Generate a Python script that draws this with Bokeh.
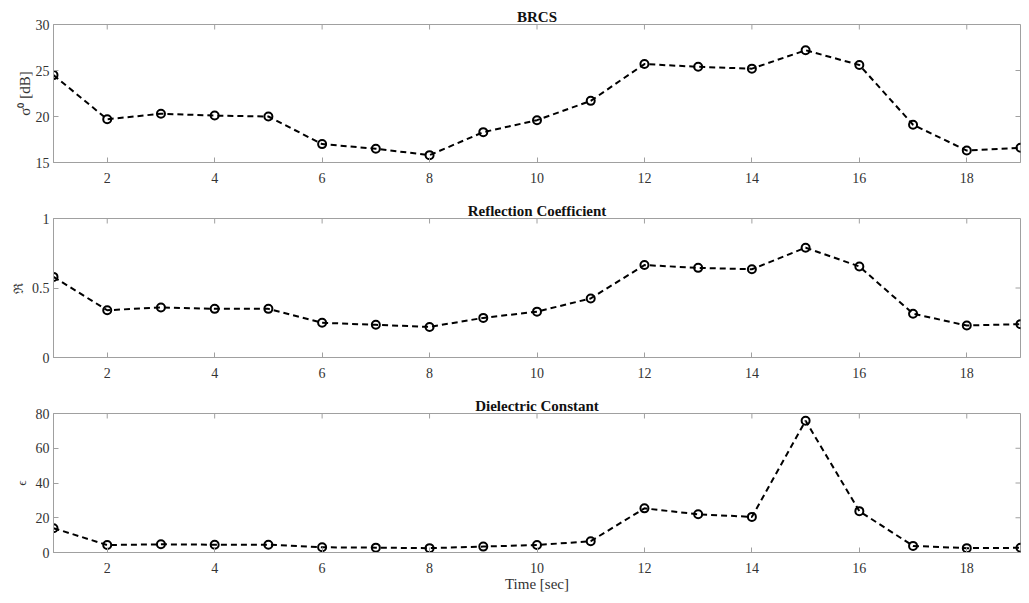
import math
from bokeh.plotting import figure
from bokeh.layouts import column
from bokeh.models import Range1d, LinearAxis, FixedTicker
from bokeh.embed import file_html
from bokeh.resources import INLINE

time = list(range(1, 20))
brcs = [24.5, 19.7, 20.3, 20.1, 20.0, 17.0, 16.5, 15.8, 18.3, 19.6, 21.7, 25.7, 25.4, 25.2, 27.2, 25.6, 19.1, 16.3, 16.6]
refl = [0.58, 0.34, 0.36, 0.35, 0.35, 0.25, 0.235, 0.22, 0.285, 0.33, 0.425, 0.665, 0.645, 0.635, 0.79, 0.655, 0.315, 0.23, 0.24]
diel = [14.0, 4.3, 4.7, 4.5, 4.5, 3.0, 2.8, 2.5, 3.4, 4.3, 6.5, 25.4, 22.0, 20.5, 75.8, 23.8, 3.8, 2.5, 2.7]

x_ticks = [2, 4, 6, 8, 10, 12, 14, 16, 18]
panels = [
    dict(title="BRCS", y=brcs, yr=(15, 30), yt=[15, 20, 25, 30], ylabel="σ⁰ [dB]", ylsize="15px", ylstand=0,
         xlabel=None, top=24, bottom=33, fh=138),
    dict(title="Reflection Coefficient", y=refl, yr=(0, 1), yt=[0, 0.5, 1], ylabel="ℜ", ylsize="13px", ylstand=3,
         xlabel=None, top=23, bottom=33, fh=139),
    dict(title="Dielectric Constant", y=diel, yr=(0, 80), yt=[0, 20, 40, 60, 80], ylabel="ϵ", ylsize="13px", ylstand=4,
         xlabel="Time [sec]", top=23, bottom=49, fh=139),
]

FONT = "Liberation Serif"
AX = "#a0a0a0"
TXT = "#333333"

figs = []
for pn in panels:
    x0, x1 = 1, 19
    y0, y1 = pn["yr"]
    p = figure(frame_width=967, frame_height=pn["fh"], output_backend="svg", toolbar_location=None,
               x_range=Range1d(x0, x1), y_range=Range1d(y0, y1),
               min_border_left=53, min_border_right=8, min_border_top=pn["top"], min_border_bottom=pn["bottom"],
               x_axis_location=None, y_axis_location=None)
    p.title.text = pn["title"]
    p.title.text_font = FONT
    p.title.text_font_size = "15px"
    p.title.text_font_style = "bold"
    p.title.align = "center"
    p.title.text_color = "#111111"
    p.title.standoff = 0
    p.title.offset = 0
    p.grid.visible = False
    p.outline_line_color = AX
    p.outline_line_width = 1
    p.background_fill_color = "white"
    p.border_fill_color = "white"

    xa = LinearAxis(ticker=FixedTicker(ticks=x_ticks))
    ya = LinearAxis(ticker=FixedTicker(ticks=pn["yt"]))
    for ax in (xa, ya):
        ax.axis_line_color = AX
        ax.major_tick_line_color = AX
        ax.major_tick_in = 5
        ax.major_tick_out = 0
        ax.minor_tick_line_color = None
        ax.major_label_text_font = FONT
        ax.major_label_text_font_size = "14px"
        ax.major_label_text_color = TXT
        ax.axis_label_text_font = FONT
        ax.axis_label_text_font_style = "normal"
        ax.axis_label_text_color = TXT
    xa.major_label_standoff = 10
    ya.major_label_standoff = 4
    ya.major_label_orientation = "horizontal"
    ya.axis_label = pn["ylabel"]
    ya.axis_label_text_font_size = pn["ylsize"]
    ya.axis_label_standoff = pn["ylstand"]
    if pn["xlabel"]:
        xa.axis_label = pn["xlabel"]
        xa.axis_label_text_font_size = "15px"
        xa.axis_label_standoff = 0
    p.add_layout(xa, "below")
    p.add_layout(ya, "left")

    # inward ticks on the top and right edges (MATLAB box style)
    p.ray(x=x_ticks, y=[y1] * len(x_ticks), length=5, length_units="screen",
          angle=-math.pi / 2, line_color=AX, line_width=1)
    p.ray(x=[x1] * len(pn["yt"]), y=pn["yt"], length=5, length_units="screen",
          angle=math.pi, line_color=AX, line_width=1)

    p.line(time, pn["y"], line_color="black", line_width=2, line_dash="6 4")
    p.scatter(time, pn["y"], marker="circle", size=8, line_color="black", line_width=2, fill_color=None)
    figs.append(p)

layout = column(*figs, spacing=0)
open("out.html", "w").write(file_html(layout, INLINE))
